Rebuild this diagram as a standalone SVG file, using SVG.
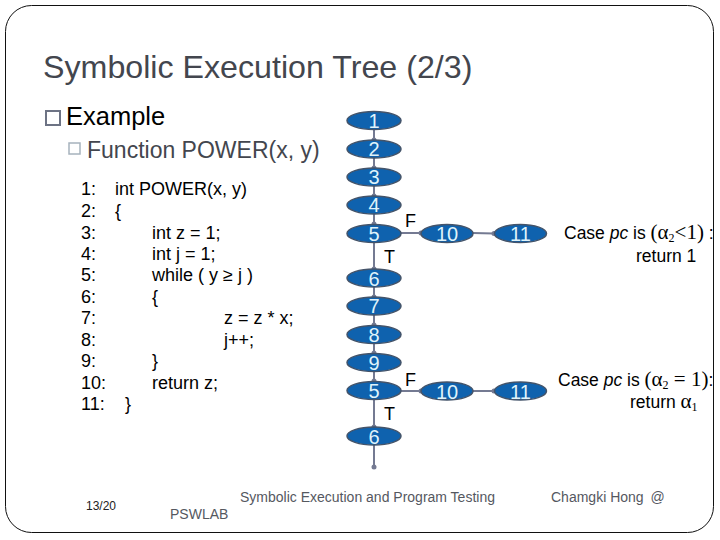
<svg xmlns="http://www.w3.org/2000/svg" width="720" height="540" viewBox="0 0 720 540">
<style>
text{font-family:"Liberation Sans",Arial,sans-serif;}
.code{font-size:18px;fill:#000;}
.n ellipse{fill:#0f62ae;stroke:#44546a;stroke-width:1.5;}
.n text{font-size:20px;fill:#dff3fb;text-anchor:middle;}
.c line{stroke:#747a92;stroke-width:2;marker-end:url(#oval);}
.lab{font-size:18px;fill:#000;}
.case{font-size:17.500px;fill:#000;}
.foot{font-size:14px;fill:#55585f;}
.m{font-family:"Liberation Serif",serif;font-size:21px;}
</style>
<defs><marker id="oval" markerUnits="userSpaceOnUse" markerWidth="8" markerHeight="8" refX="4" refY="4"><circle cx="4" cy="4" r="2.500" fill="#747a92"/></marker></defs>
<rect x="5.5" y="5.500" width="708" height="527" rx="26" ry="26" fill="#fff" stroke="#111" stroke-width="1"/>
<text x="43" y="78" font-size="32.200" fill="#43464e">Symbolic Execution Tree (2/3)</text>
<rect x="46" y="111" width="14" height="14" fill="none" stroke="#6d7384" stroke-width="2"/>
<text x="66" y="125" font-size="25.500" fill="#000">Example</text>
<rect x="69" y="143" width="11" height="11" fill="none" stroke="#a6b3bd" stroke-width="1.500"/>
<text x="87" y="158" font-size="23" fill="#43464e">Function POWER(x, y)</text>
<g class="code">
<text x="81" y="195">1:</text><text x="115" y="195">int POWER(x, y)</text>
<text x="81" y="217">2:</text><text x="115" y="217">{</text>
<text x="81" y="239">3:</text><text x="152" y="239">int z = 1;</text>
<text x="81" y="260">4:</text><text x="152" y="260">int j = 1;</text>
<text x="81" y="281">5:</text><text x="152" y="281">while ( y ≥ j )</text>
<text x="81" y="303">6:</text><text x="152" y="303">{</text>
<text x="81" y="324">7:</text><text x="224" y="324">z = z * x;</text>
<text x="81" y="346">8:</text><text x="224" y="346">j++;</text>
<text x="81" y="367">9:</text><text x="152" y="367">}</text>
<text x="81" y="389">10:</text><text x="152" y="389">return z;</text>
<text x="81" y="410">11:</text><text x="125" y="410">}</text>
</g>
<g id="connectors" class="c">
<line x1="374" y1="129" x2="374" y2="140"/>
<line x1="374" y1="158" x2="374" y2="168"/>
<line x1="374" y1="186" x2="374" y2="196"/>
<line x1="374" y1="214" x2="374" y2="224"/>
<line x1="374" y1="242" x2="374" y2="269"/>
<line x1="374" y1="287" x2="374" y2="297"/>
<line x1="374" y1="315" x2="374" y2="325"/>
<line x1="374" y1="343" x2="374" y2="353"/>
<line x1="374" y1="371" x2="374" y2="381"/>
<line x1="374" y1="399" x2="374" y2="427"/>
<line x1="374" y1="445" x2="374" y2="467"/>
<line x1="401" y1="233" x2="421" y2="233"/>
<line x1="473" y1="233" x2="494" y2="233.500"/>
<line x1="401" y1="391" x2="421" y2="391"/>
<line x1="473" y1="391" x2="494" y2="391"/>
</g>
<g id="n1" class="n"><ellipse cx="374" cy="120.500" rx="27" ry="9"/><text x="374" y="128">1</text></g>
<g id="n2" class="n"><ellipse cx="374" cy="149" rx="27" ry="9"/><text x="374" y="156">2</text></g>
<g id="n3" class="n"><ellipse cx="374" cy="177" rx="27" ry="9"/><text x="374" y="184">3</text></g>
<g id="n4" class="n"><ellipse cx="374" cy="205" rx="27" ry="9"/><text x="374" y="212">4</text></g>
<g id="n5" class="n"><ellipse cx="374" cy="233.500" rx="27" ry="9"/><text x="374" y="241">5</text></g>
<g id="n10" class="n"><ellipse cx="447" cy="233.500" rx="26" ry="9"/><text x="447" y="241">10</text></g>
<g id="n11" class="n"><ellipse cx="520.500" cy="233.500" rx="26" ry="9"/><text x="520.500" y="241">11</text></g>
<g id="n6" class="n"><ellipse cx="374" cy="278" rx="27" ry="9"/><text x="374" y="286">6</text></g>
<g id="n7" class="n"><ellipse cx="374" cy="306" rx="27" ry="9"/><text x="374" y="313">7</text></g>
<g id="n8" class="n"><ellipse cx="374" cy="334.500" rx="27" ry="9"/><text x="374" y="342">8</text></g>
<g id="n9" class="n"><ellipse cx="374" cy="362.500" rx="27" ry="9"/><text x="374" y="370">9</text></g>
<g id="n5b" class="n"><ellipse cx="374" cy="390.500" rx="27" ry="9"/><text x="374" y="398">5</text></g>
<g id="n10b" class="n"><ellipse cx="447" cy="391" rx="26" ry="9"/><text x="447" y="399">10</text></g>
<g id="n11b" class="n"><ellipse cx="520.500" cy="391" rx="26" ry="9"/><text x="520.500" y="399">11</text></g>
<g id="n6b" class="n"><ellipse cx="374" cy="436" rx="27" ry="9"/><text x="374" y="444">6</text></g>
<text class="lab" x="405" y="227">F</text>
<text class="lab" x="384" y="263">T</text>
<text class="lab" x="405" y="386">F</text>
<text class="lab" x="384" y="420">T</text>
<text class="case" x="564" y="239">Case <tspan font-style="italic">pc</tspan> is <tspan class="m">(α<tspan font-size="12" dy="3">2</tspan><tspan dy="-3">&lt;</tspan>1)</tspan> :</text>
<text class="case" x="636" y="262">return 1</text>
<text class="case" x="558" y="386">Case <tspan font-style="italic">pc</tspan> is <tspan class="m">(α<tspan font-size="12" dy="3">2</tspan><tspan dy="-3"> = </tspan>1)</tspan>:</text>
<text class="case" x="630" y="408">return <tspan class="m">α<tspan font-size="12" dy="3">1</tspan></tspan></text>
<text class="foot" x="240" y="502">Symbolic Execution and Program Testing</text>
<text class="foot" x="551" y="502">Chamgki Hong <tspan dx="3">@</tspan></text>
<text class="foot" x="170" y="519">PSWLAB</text>
<text x="86" y="510" font-size="12" fill="#222">13/20</text>
</svg>
